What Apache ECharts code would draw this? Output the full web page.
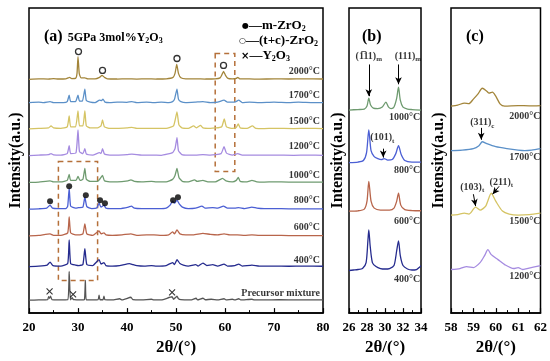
<!DOCTYPE html>
<html><head><meta charset="utf-8">
<script src="https://cdn.jsdelivr.net/npm/echarts@6/dist/echarts.min.js"></script>
<style>html,body{margin:0;padding:0;background:#fff}#c{width:550px;height:361px}</style>
</head><body><div id="c"></div>
<script>
const FONT = 'Liberation Serif';
// ---------- panel (a): full patterns, 2θ 20–80 ----------
const tempsA = ['Precursor mixture','400°C','600°C','800°C','1000°C','1200°C','1500°C','1700°C','2000°C'];
const offsetsA = [13,47,78,105,132,159,186,212,236];
const labelYA = [20,53,86,114,139,168,193,220,244];
const a_pre = [[20,0],[22,0.3],[23.8,0.5],[24.0,3.5],[24.2,2],[24.4,4],[24.7,0.5],[26,0.3],[27.9,0.5],[28.2,29],[28.45,0.5],[28.8,2.5],[29.0,1],[29.2,0.5],[30.5,0.3],[31.3,0.5],[31.5,20],[31.7,0.5],[33,0.3],[34.1,0.5],[34.3,5],[34.5,0.5],[35.1,0.5],[35.3,4],[35.5,0.5],[37,0.3],[38.5,1.5],[39,0.3],[40.8,3],[41.2,0.5],[43,0.3],[45,1],[45.5,0.3],[47,0.3],[49.2,3.5],[49.5,1],[50.2,4],[50.5,1.5],[51,0.5],[53,0.3],[54.1,2],[54.4,0.3],[55.5,2],[56,0.5],[57.2,1],[58.5,0.3],[59.8,1.5],[60.2,0.3],[61.5,1],[62,0.3],[62.8,1.5],[63.2,0.3],[65.5,1],[66,0.3],[68,0.3],[71,0.5],[75,0.3],[80,0.3]];
const a_400 = [[20,0],[22,0.5],[23.7,1.5],[24.3,4.5],[24.9,1],[26.5,0.5],[27.9,3],[28.2,27],[28.5,3],[29.5,1.5],[30.2,1],[31.0,2],[31.4,18],[31.8,2],[33,1],[34.3,7],[34.7,2.5],[35.3,4],[35.7,1],[37,0.5],[38.5,1],[40.5,3],[41.2,2],[42,1],[43.5,0.5],[45,1],[46,0.5],[48,1],[49.3,4],[49.7,2],[50.2,7],[50.8,3],[51.5,1.5],[52.5,0.5],[54,2],[54.5,0.5],[55.5,3.5],[56.3,1],[57.5,2],[58.5,0.5],[59.8,2.5],[60.5,0.5],[62,1],[62.8,2.5],[63.5,0.5],[65.5,1.5],[67,0.5],[70,0.5],[73,0.3],[76,0.5],[80,0.3]];
const a_600 = [[20,0],[22,0.5],[24.3,2],[25,0.5],[26.5,0.5],[27.9,3],[28.2,19],[28.5,3],[29.5,1],[30.2,1],[31.0,2],[31.4,12],[31.8,2],[33,0.5],[34.3,5],[34.7,2],[35.3,3],[35.7,1],[37,0.5],[39,1],[40.8,2],[42,0.5],[44,1],[45.5,1],[47,0.5],[48.5,1],[49.3,4],[49.7,2],[50.2,6],[50.8,2],[52,1],[53.5,1],[55.5,2.5],[57,1.5],[58.5,1],[59.8,2],[61,1],[62.5,1],[64,0.5],[65.5,1],[67,0.5],[70,0.5],[73,0.3],[77,0.3],[80,0.3]];
const a_800 = [[20,0],[22,0.3],[23.6,1],[24.3,4],[24.8,1],[26,0.5],[27.5,0.5],[27.9,3],[28.2,21],[28.5,3],[29.5,1],[30.1,1.5],[31.0,2],[31.4,12],[31.8,2.5],[32.8,0.5],[33.8,1],[34.3,6],[34.7,2],[35.3,4],[35.7,1],[37,0.5],[38.5,0.5],[40.3,2],[40.9,3],[41.5,1],[43,0.5],[45,0.5],[46.5,0.5],[48,1],[48.8,4],[49.3,8],[49.7,6],[50.2,9],[50.7,5],[51.3,2],[52.5,0.5],[54,1],[55.3,3],[55.9,1],[57.5,1.5],[58.5,1],[59.7,3],[60.5,1],[62,1],[62.8,1.5],[64,0.5],[65.5,2],[66.5,1],[68,0.5],[70,0.5],[73,0.3],[77,0.3],[80,0.3]];
const a_1000 = [[20,0],[22,0.3],[24.3,1.5],[25,0.5],[26.5,0.5],[27.8,2],[28.2,8],[28.5,2],[29.6,2],[30.0,6],[30.4,2],[31.0,3],[31.4,14],[31.7,3],[32.5,1],[34,1],[34.4,3],[35.0,7],[35.4,1.5],[36.5,0.5],[38,0.5],[40.2,1.5],[40.8,2.5],[41.5,1],[43,0.5],[45,1],[46,0.5],[48,0.5],[49.3,3],[49.8,7],[50.2,14],[50.6,5],[51.3,1],[52.5,0.5],[53.8,2.5],[54.3,1],[55.5,2],[56.5,0.5],[58,0.5],[59.5,4],[60.2,1.5],[61.5,0.5],[62.3,2],[62.7,5],[63.1,1],[64.5,0.5],[65.5,2],[66.5,0.5],[68,0.3],[70,0.5],[73,0.3],[77,0.3],[80,0.3]];
const a_1200 = [[20,0],[22,0.5],[24,1],[24.5,2],[25,0.8],[26.5,0.5],[27.8,2],[28.2,10],[28.5,2],[29.6,3],[30.0,26],[30.3,4],[31.0,2],[31.4,7],[31.7,1.5],[33,0.5],[34.4,3],[34.7,2],[35.0,7],[35.4,1.5],[36.5,0.5],[38,0.5],[40,1],[41,1.5],[43,0.5],[45,0.5],[47,0.3],[49.3,3],[49.8,7],[50.2,18],[50.5,5],[51.2,1],[52.5,0.5],[54,0.5],[55.5,1],[57,0.5],[59.2,2],[59.8,9],[60.3,2.5],[61.5,0.5],[62.6,2],[63.5,0.5],[66,0.5],[70,0.5],[74,0.3],[77,0.5],[80,0.3]];
const a_1500 = [[20,0],[22,0.5],[24,1],[24.5,3],[25,1],[26.5,0.5],[27.8,2],[28.2,13],[28.5,2],[29.5,2],[30.0,18],[30.3,3],[31.0,3],[31.4,18],[31.7,3],[32.5,1],[34,1],[34.7,3],[35.0,9],[35.4,2],[36.5,0.5],[38,0.5],[40,1],[41,1.5],[42,0.5],[44,0.5],[46,0.5],[48,0.5],[49.5,3],[50.2,17],[50.6,4],[51.2,1],[52.5,0.5],[53.6,3],[54.2,1],[55.0,3.5],[55.5,1],[57,0.5],[59.3,2],[59.85,10],[60.3,2],[61.5,0.5],[62.3,1.5],[62.7,5],[63.1,1],[64.5,0.5],[65.6,3],[66.3,0.5],[68,0.3],[70,0.5],[74,0.3],[77,0.5],[80,0.3]];
const a_1700 = [[20,0.5],[22,1],[23,0.5],[24.3,1.5],[25,0.5],[27,0.5],[27.8,1.5],[28.2,8],[28.5,1.5],[29.5,1.5],[30.0,8],[30.3,2],[30.9,2],[31.4,14],[31.7,2.5],[32.5,1],[33.5,0.5],[34.4,3],[34.8,2.5],[35.1,4],[35.5,1],[36.5,0.5],[38,1],[40,0.8],[41,1.5],[42,0.5],[44,1],[45.5,0.5],[47,1],[48.5,0.5],[49.3,1.5],[49.7,4],[50.2,14],[50.5,4],[51,1.5],[52,0.5],[54,1],[55.5,1.5],[57,0.5],[58.5,1],[59.8,3],[60.5,1],[62,1],[62.8,3],[63.5,0.5],[65,1],[67,0.5],[70,1],[73,0.5],[75,1],[78,0.5],[80,0.5]];
const a_2000 = [[20,0],[22,0.5],[24,0.3],[25,0.8],[26,0.3],[27.5,0.5],[28,1.5],[28.3,2],[28.7,0.8],[29.5,1],[29.8,6],[30.0,23],[30.25,6],[30.6,1.5],[31.4,1.5],[32,0.5],[33.5,0.5],[34.4,2],[34.9,4],[35.4,2],[36,0.5],[38,0.3],[40,0.5],[42,0.2],[44,0.5],[46,0.3],[48,0.5],[49.4,2],[49.8,6],[50.15,15],[50.5,6],[51,1.5],[52,0.5],[54,0.5],[56,0.3],[58,0.5],[59,1.5],[59.4,5],[59.7,8],[60.1,4],[60.6,1],[61.5,0.5],[62.3,1],[62.6,2],[63,0.5],[65,0.4],[67,0.2],[70,0.5],[73,0.3],[76,0.5],[80,0.3]];
const patternsA = [a_pre,a_400,a_600,a_800,a_1000,a_1200,a_1500,a_1700,a_2000];
const colorsA = ['#555555','#252b8e','#b8654b','#4b5fd4','#6f9b70','#a58be0','#d5c464','#5b90c8','#a3853a'];
// phase markers in (a)
const mPeaks = [[24.3,113],[28.2,128],[31.6,119],[34.5,114],[35.5,111],[49.4,114],[50.4,117]];
const tcPeaks = [[30.1,264],[35.0,245],[50.2,257],[59.7,250]];
const yPeaks = [[24.2,22],[29.0,19],[49.2,21]];
const boxesA = [[[26,153],[34,33]],[[58,262],[62,143]]];
// ---------- panel (b): 2θ 26–34 ----------
const tempsB = ['400°C','600°C','800°C','1000°C'];
const offsetsB = [43,103,152,205];
const labelYB = [34,93,144,198];
const b_400 = [[26,0],[26.5,0.5],[27,1],[27.5,2],[27.9,8],[28.1,30],[28.2,41],[28.35,25],[28.6,8],[29,4],[29.5,2],[30,1.5],[30.5,2],[31.0,5],[31.3,20],[31.5,30],[31.7,15],[32,5],[32.5,1.5],[33,0.5],[33.5,1],[33.8,3],[34,5]];
const b_600 = [[26,0],[27,0.3],[27.7,2],[28.0,10],[28.2,30],[28.45,10],[28.8,3],[29.5,1],[30.5,1],[31.0,3],[31.3,10],[31.5,18],[31.75,6],[32.2,1.5],[33,0.5],[34,0.3]];
const b_800 = [[26,0],[27,0.5],[27.6,2],[27.95,10],[28.2,33],[28.45,12],[28.8,6],[29.2,4],[29.6,3],[29.9,4],[30.3,2.5],[30.8,3],[31.2,9],[31.5,17],[31.8,8],[32.2,2],[33,0.5],[34,0.5]];
const b_1000 = [[26,0],[27,0.5],[27.7,1],[28.0,4],[28.2,12],[28.4,5],[28.7,2],[29.2,1.5],[29.7,3],[30.1,8],[30.4,3],[30.7,1.5],[31.0,3],[31.3,12],[31.5,23],[31.7,10],[32.0,3],[32.5,1],[33,0.5],[34,0]];
const patternsB = [b_400,b_600,b_800,b_1000];
const colorsB = ['#252b8e','#b8654b','#4b5fd4','#6f9b70'];
const peakLabelsB = [[28.2,259,'(1\u030511){s|m}'],[32.55,259,'(111){s|m}'],[29.7,177,'(101){s|t}']];
const arrowsB = [[[28.2,251],[28.2,219]],[[31.5,251],[31.5,231]],[[29.8,166],[29.8,157]]];
// ---------- panel (c): 2θ 58–62 ----------
const tempsC = ['1200°C','1500°C','1700°C','2000°C'];
const offsetsC = [44,99,164,209];
const labelYC = [37,93,157,199];
const c_1200 = [[58,0],[58.4,1],[58.7,3],[59.0,2],[59.3,7],[59.5,14],[59.65,20],[59.8,15],[60.1,10],[60.4,5],[60.8,1],[61.0,2],[61.2,0],[61.4,1],[62,4]];
const c_1500 = [[58,0],[58.3,0.5],[58.6,2],[58.8,1],[59.1,8],[59.3,5],[59.55,9],[59.8,22],[60.0,14],[60.3,4],[60.6,1],[61,0],[61.5,0.5],[62,2]];
const c_1700 = [[58,0],[58.5,0.5],[59.0,2],[59.25,5],[59.4,9],[59.6,7],[60.0,4],[60.5,2],[61.0,0.5],[61.3,0],[61.6,0.5],[62,2]];
const c_2000 = [[58,0],[58.3,1],[58.6,3],[58.8,2.5],[59.0,7],[59.2,12],[59.4,18],[59.6,15],[59.7,13],[59.85,14],[60.0,10],[60.2,2],[60.4,0],[61,0.5],[61.5,0.2],[62,0.5]];
const patternsC = [c_1200,c_1500,c_1700,c_2000];
const colorsC = ['#a58be0','#d5c464','#5b90c8','#a3853a'];
const peakLabelsC = [[59.4,192,'(311){s|c}'],[58.95,127,'(103){s|t}'],[60.25,132,'(211){s|t}']];
const arrowsC = [[[59.35,187],[59.35,175]],[[59.0,120],[59.1,108]],[[60.15,128],[59.86,120]]];

// ---------- build ----------
const txt = {fontFamily: FONT, fontWeight: 'bold', color: '#000'};
const sub = {fontFamily: FONT, fontWeight: 'bold', color: '#000', fontSize: 7, verticalAlign: 'bottom', lineHeight: 13};
const gridPos = [{left:27,top:8,width:296,height:308},{left:349,top:8,width:72,height:308},{left:451,top:8,width:92,height:308}];
const xr = [[20,80,10],[26,34,2],[58,62,1]];
const yNameGap = [5,3,4];
const series = [];
function addTraces(gi, pats, offs, cols, smooth){
  pats.forEach((p,i)=>{
    series.push({type:'line', xAxisIndex:gi, yAxisIndex:gi, silent:true, symbol:'none', smooth:smooth, z:2,
      lineStyle:{color:cols[i], width:1.3}, data:p.map(d=>[d[0], d[1]+offs[i]])});
  });
}
addTraces(0, patternsA, offsetsA, colorsA, 0.15);
addTraces(1, patternsB, offsetsB, colorsB, 0.25);
addTraces(2, patternsC, offsetsC, colorsC, 0.25);
function tempLabels(gi, temps, ys, x){
  return {type:'scatter', xAxisIndex:gi, yAxisIndex:gi, symbolSize:0, silent:true, z:5,
    data: temps.map((t,i)=>[x, ys[i], t]),
    label:{show:true, position:[0,0], align:'right', verticalAlign:'middle', formatter:p=>p.data[2], fontSize:10, ...txt}};
}
const la = tempLabels(0, tempsA, labelYA, 79.4);
la.markArea = {silent:true, itemStyle:{color:'rgba(0,0,0,0)', borderColor:'#b5703a', borderWidth:1.5, borderType:[5,4]},
  data: boxesA.map(b=>[{coord:b[0]},{coord:b[1]}])};
series.push(la);
function peakLabels(gi, arr, arrows){
  return {type:'scatter', xAxisIndex:gi, yAxisIndex:gi, symbolSize:0, silent:true, z:5,
    data: arr,
    label:{show:true, position:[0,0], align:'center', verticalAlign:'middle', formatter:p=>p.data[2], fontSize:10, lineHeight:13, ...txt,
      rich:{s:sub}},
    markLine:{silent:true, symbol:['none','arrow'], symbolSize:[5,7], label:{show:false},
      lineStyle:{color:'#000', width:1, type:'solid'},
      data: arrows.map(a=>[{coord:a[0]},{coord:a[1]}])}};
}
const lb = tempLabels(1, tempsB, labelYB, 33.9);
const lc = tempLabels(2, tempsC, labelYC, 62.0);
series.push(lb, lc, peakLabels(1, peakLabelsB, arrowsB), peakLabels(2, peakLabelsC, arrowsC));
series.push({type:'scatter', xAxisIndex:0, yAxisIndex:0, symbol:'circle', symbolSize:6, silent:true, z:6, itemStyle:{color:'#000'}, data:mPeaks});
series.push({type:'scatter', xAxisIndex:0, yAxisIndex:0, symbol:'circle', symbolSize:6, silent:true, z:6, itemStyle:{color:'#fff', borderColor:'#000', borderWidth:1.3}, data:tcPeaks});
series.push({type:'scatter', xAxisIndex:0, yAxisIndex:0, symbol:'path://M0,0L10,10M10,0L0,10', symbolSize:6, silent:true, z:6, itemStyle:{color:'none', borderColor:'#000', borderWidth:1.1}, data:yPeaks});

const titles = [
  {left:39, top:22, text:'{b|(a)} {t|5GPa 3mol%Y}{s|2}{t|O}{s|3}', textStyle:{rich:{b:{...txt, fontSize:16, lineHeight:18, verticalAlign:'bottom'}, t:{...txt, fontSize:12, lineHeight:18, verticalAlign:'bottom', padding:[0,0,1,0]}, s:{...sub, fontSize:8, lineHeight:18}}}},
  {left:237, top:14, text:'{d|●}{t|—m-ZrO}{s|2}', textStyle:{rich:{d:{fontFamily:'DejaVu Sans', color:'#000', fontSize:8, lineHeight:14}, t:{...txt, fontSize:13, lineHeight:14}, s:{...sub, fontSize:8, lineHeight:14}}}},
  {left:234, top:29, text:'{d|○}{t|—(t+c)-ZrO}{s|2}', textStyle:{rich:{d:{fontFamily:'DejaVu Sans', color:'#000', fontSize:8, lineHeight:14}, t:{...txt, fontSize:13, lineHeight:14}, s:{...sub, fontSize:8, lineHeight:14}}}},
  {left:236, top:44, text:'{d|×}{t|—Y}{s|2}{t|O}{s|3}', textStyle:{rich:{d:{fontFamily:'DejaVu Sans', color:'#000', fontSize:10, lineHeight:14}, t:{...txt, fontSize:13, lineHeight:14}, s:{...sub, fontSize:8, lineHeight:14}}}},
  {left:357, top:24, text:'(b)', textStyle:{...txt, fontSize:16}},
  {left:461, top:24, text:'(c)', textStyle:{...txt, fontSize:16}}
];

const option = {
  animation:false,
  backgroundColor:'#fff',
  title: titles,
  grid: gridPos.map(g=>({...g, show:true, borderColor:'#000', borderWidth:1.5, backgroundColor:'transparent'})),
  xAxis: xr.map((r,i)=>({type:'value', gridIndex:i, min:r[0], max:r[1], interval:r[2],
    axisLine:{show:true, lineStyle:{color:'#000', width:1.5}},
    axisTick:{show:true, inside:true, length:5, lineStyle:{color:'#000', width:1.2}},
    minorTick:{show:true, splitNumber:2, length:3, lineStyle:{color:'#000', width:1}},
    splitLine:{show:false}, minorSplitLine:{show:false},
    axisLabel:{...txt, fontSize:13, margin:8},
    name:'2θ/(°)', nameLocation:'middle', nameGap:21, nameTextStyle:{...txt, fontSize:17}})),
  yAxis: xr.map((r,i)=>({type:'value', gridIndex:i, min:0, max:308,
    axisLine:{show:false}, axisTick:{show:false}, axisLabel:{show:false}, splitLine:{show:false},
    name:'Intensity(a.u.)', nameLocation:'middle', nameGap:yNameGap[i], nameTextStyle:{...txt, fontSize:16}})),
  series: series
};
const chart = echarts.init(document.getElementById('c'));
chart.setOption(option);
</script></body></html>
